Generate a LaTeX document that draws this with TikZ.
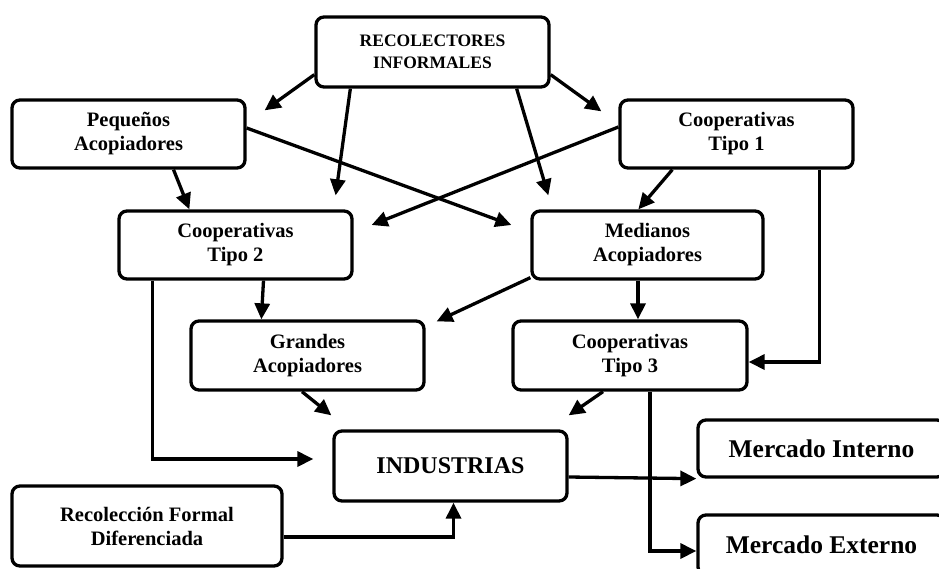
\documentclass[tikz,border=0pt]{standalone}
\usepackage{fontspec}
\setmainfont{Liberation Serif}
\usetikzlibrary{arrows.meta,calc}
\tikzset{box/.style={draw,line width=3.3pt,rounded corners=8pt,inner sep=2pt,
minimum width=233pt, minimum height=68pt, align=center,
font=\bfseries\fontsize{20.5}{24}\selectfont},
small/.style={box,font=\bfseries\fontsize{17.5}{22}\selectfont},
big/.style={box,font=\bfseries\fontsize{24}{28}\selectfont},
huge/.style={box,font=\bfseries\fontsize{25.5}{30}\selectfont},
flow/.style={line width=3.3pt,-{Triangle[length=16pt,width=15pt]}},
>={Triangle[length=16pt,width=15pt]}}

\begin{document}
\begin{tikzpicture}[x=1pt,y=-1pt]
  \clip (0,0) rectangle (939,568);
  \fill[white] (0,0) rectangle (939,568);

  \node (recol) [small,minimum height=70pt] at (432.5,52) {RECOLECTORES\\INFORMALES};
  \node (pequenos) [box] at (128.5,134) {Peque\~nos\\Acopiadores};
  \node (coop1) [box] at (736.5,134) {Cooperativas\\Tipo 1};
  \node (coop2) [box] at (235.5,245) {Cooperativas\\Tipo 2};
  \node (medianos) [box,minimum width=231pt] at (647.5,245) {Medianos\\Acopiadores};
  \node (grandes) [box,minimum height=69pt] at (307.5,355.5) {Grandes\\Acopiadores};
  \node (coop3) [box,minimum width=234pt,minimum height=69pt] at (630,355.5) {Cooperativas\\Tipo 3};
  \node (industrias) [big,minimum height=70pt] at (450.5,466) {INDUSTRIAS};
  \node (recform) [box,minimum width=270pt,minimum height=80pt] at (147,526) {Recolecci\'on Formal\\Diferenciada};
  \node (merint) [huge,minimum width=247pt,minimum height=57pt] at (821.5,448.5) {Mercado Interno};
  \node (merext) [huge,minimum width=247pt,minimum height=60pt] at (821.5,545) {Mercado Externo};

  \draw [flow] ($(recol.south west)+(0,-14)$) -- ($(pequenos.north east)+(18,12)$);
  \draw [flow] ($(recol.south west)+(36,0)$) -- ($(coop2.north east)+(-18,-14)$);
  \draw [flow] ($(recol.south east)+(-34,0)$) -- ($(medianos.north west)+(18,-14)$);
  \draw [flow] ($(recol.south east)+(0,-14)$) -- ($(coop1.north west)+(-17,13)$);

  \draw [flow] ($(pequenos.east)+(0,-6)$) -- ($(medianos.west)+(-19,-20)$);
  \draw [flow] ($(coop1.west)+(0,-7)$) -- ($(coop2.east)+(18,-20)$);
  \draw [flow] ($(pequenos.south)+(45,0)$) -- ($(coop2.north west)+(72,0)$);
  \draw [flow] ($(coop1.south west)+(54,0)$) -- ($(medianos.north west)+(108,0)$);

  \draw [flow] ($(coop2.south)+(28,0)$) -- ($(grandes.north west)+(72,0)$);
  \draw [flow] ($(medianos.south west)+(0,-3)$) -- ($(grandes.north east)+(11,2)$);
  \draw [flow] ($(medianos.south)+(-9.5,0)$) -- ($(coop3.north)+(8,0)$);
  \draw [flow] ($(coop1.south east)+(-35,0)$) |- ($(coop3.east)+(0,6.5)$);

  \draw [flow] ($(coop2.south west)+(35,0)$) |- ($(industrias.west)+(-19,-7)$);
  \draw [flow] ($(grandes.south)+(-5.5,0)$) -- ($(industrias.north west)+(-1,-14)$);
  \draw [flow] ($(coop3.south)+(-27,0)$) -- ($(industrias.north east)+(0,-14)$);
  \draw [flow] ($(recform.east)+(0,11)$) -| ($(industrias.south)+(3,0)$);

  \draw [flow] ($(industrias.east)+(0,11)$) -- (merint.south west);
  \draw [flow] ($(coop3.south)+(20,0)$) |- ($(merext.west)+(0,6)$);
\end{tikzpicture}
\end{document}
